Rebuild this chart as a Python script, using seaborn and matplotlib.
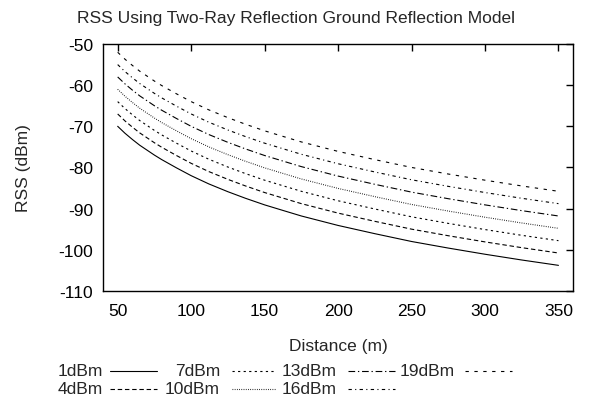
import numpy as np
import pandas as pd
import matplotlib
matplotlib.use("Agg")
import matplotlib.pyplot as plt
import seaborn as sns
from matplotlib.lines import Line2D

sns.set_style("white")
plt.rcParams["font.family"] = ["Liberation Sans", "DejaVu Sans"]
plt.rcParams["axes.unicode_minus"] = False

# distances (m)
distance = [50, 55, 60, 65, 70, 75, 80, 90, 100, 112, 125, 137, 150, 162, 175,
            200, 225, 250, 275, 300, 325, 350]
# RSS of the 1dBm curve (dBm)
rss_1dbm = [-70.0, -71.7, -73.2, -74.6, -75.8, -77.0, -78.1, -80.1, -82.0,
            -84.0, -85.9, -87.5, -89.1, -90.4, -91.8, -94.1, -96.1, -98.0,
            -99.6, -101.1, -102.5, -103.8]
# transmit powers (dBm); each curve sits higher by the power step
tx_power = [1, 4, 7, 10, 13, 16, 19]
labels = ["1dBm", "4dBm", "7dBm", "10dBm", "13dBm", "16dBm", "19dBm"]

rows = []
for p, lab in zip(tx_power, labels):
    for d, r in zip(distance, rss_1dbm):
        rows.append({"Distance": d, "RSS": r + (p - tx_power[0]), "Power": lab})
df = pd.DataFrame(rows)

dashes = {
    "1dBm": (None, None),
    "4dBm": (4.0, 2.5),
    "7dBm": (2.0, 3.0),
    "10dBm": (0.7, 1.3),
    "13dBm": (6.0, 2.5, 1.2, 2.5),
    "16dBm": (3.0, 3.0, 1.0, 3.0),
    "19dBm": (3.0, 5.0),
}

fig = plt.figure(figsize=(6.13, 4.02), dpi=100)
ax = fig.add_axes([0.168, 0.274, 0.767, 0.614])

for lab in labels:
    sub = df[df["Power"] == lab]
    ls = "-" if dashes[lab][0] is None else (0, dashes[lab])
    sns.lineplot(data=sub, x="Distance", y="RSS", ax=ax, color="black",
                 linewidth=0.8, linestyle=ls, legend=False)

ax.set_xlim(40, 360)
ax.set_ylim(-110, -50)
ax.set_xticks(np.arange(50, 351, 50))
ax.set_yticks(np.arange(-110, -49, 10))
ax.tick_params(direction="in", length=5, width=1, top=True, right=True,
               labelsize=12.5, colors="black")
ax.tick_params(axis="x", pad=9)
ax.tick_params(axis="y", pad=7)
for s in ax.spines.values():
    s.set_color("black")
    s.set_linewidth(1.0)

fig.text(296 / 613, 1 - 18 / 402,
         "RSS Using Two-Ray Reflection Ground Reflection Model",
         fontsize=12.5, ha="center", va="center")
ax.set_xlabel("Distance (m)", fontsize=12.5, labelpad=14)
ax.set_ylabel("RSS (dBm)", fontsize=12.5, labelpad=20)

# legend, gnuplot style: right-aligned text then line sample
col_text_right = [103, 220, 337, 455]
col_line = [(110, 157), (232, 275), (348, 395), (465, 512)]
row_y = [372, 390]
for i, lab in enumerate(labels):
    c, r = i // 2, i % 2
    y = 1 - row_y[r] / 402
    fig.text(col_text_right[c] / 613, y, lab, ha="right", va="center",
             fontsize=12.5)
    ls = "-" if dashes[lab][0] is None else (0, dashes[lab])
    x0, x1 = col_line[c]
    fig.add_artist(Line2D([x0 / 613, x1 / 613], [y, y], color="black",
                          linewidth=0.8, linestyle=ls))

fig.savefig("out.png", dpi=100, facecolor="white")
